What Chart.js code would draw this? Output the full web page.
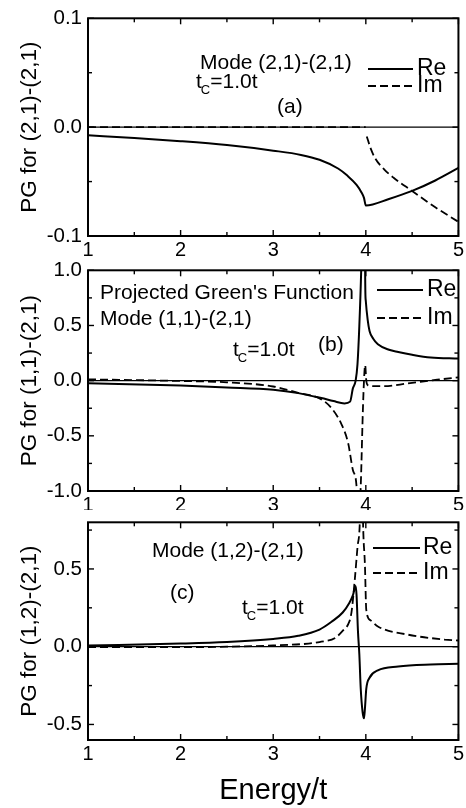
<!DOCTYPE html>
<html>
<head>
<meta charset="UTF-8">
<title>Projected Green's Function</title>
<script src="https://cdn.jsdelivr.net/npm/chart.js"></script>
<style>
  body { margin: 0; background: #fff; }
  #wrap { position: relative; width: 466px; height: 808px; overflow: hidden; }
  canvas { position: absolute; left: 0; }
</style>
</head>
<body>
<div id="wrap">
  <canvas id="chartA" width="466" height="258" style="top:0px"></canvas>
  <canvas id="chartB" width="466" height="258" style="top:252px"></canvas>
  <canvas id="chartC" width="466" height="304" style="top:504px"></canvas>
</div>

<script>
// shared x axis
const energyTicks = [1, 2, 3, 4, 5];

// panel (a): Mode (2,1)-(2,1)
const yTicksA = [-0.1, 0, 0.1];
const energyReA = [1, 1.5, 2, 2.5, 3, 3.3, 3.5, 3.7, 3.8, 3.9, 3.95, 3.98, 4.0, 4.25, 4.5, 4.75, 5];
const reA = [-0.0075, -0.0100, -0.0129, -0.0165, -0.0216, -0.0255, -0.0300, -0.0380, -0.0445, -0.0530, -0.0595, -0.0650, -0.0720, -0.0660, -0.0586, -0.0490, -0.0375];
const energyImA = [1, 2, 3, 3.999, 4.0, 4.01, 4.05, 4.1, 4.2, 4.3, 4.5, 4.75, 5];
const imA = [0, 0, 0, 0, null, -0.0085, -0.019, -0.0285, -0.039, -0.0465, -0.0586, -0.0736, -0.087];

// panel (b): Mode (1,1)-(2,1)
const yTicksB = [-1, -0.5, 0, 0.5, 1];
const energyReB = [1, 2, 2.5, 3, 3.27, 3.52, 3.65, 3.77, 3.83, 3.86, 3.89, 3.91, 3.93, 3.95, 3.965, 3.985, 3.995, 4.0, 4.02, 4.04, 4.08, 4.13, 4.25, 4.35, 4.5, 4.7, 5];
const reB = [-0.024, -0.045, -0.062, -0.083, -0.113, -0.158, -0.185, -0.206, -0.19, -0.07, 0.0, 0.15, 0.5, 1.0, 1.6, 1.6, 0.8, 0.72, 0.55, 0.45, 0.38, 0.33, 0.28, 0.26, 0.235, 0.21, 0.2];
const energyImB = [1, 2, 2.5, 3, 3.27, 3.52, 3.63, 3.74, 3.81, 3.86, 3.9, 3.92, 3.945, 3.97, 3.985, 3.993, 4.005, 4.02, 4.1, 4.2, 4.45, 4.77, 5];
const imB = [0.012, -0.003, -0.015, -0.053, -0.11, -0.17, -0.25, -0.40, -0.57, -0.81, -0.96, -1.4, -0.96, -0.22, 0.08, 0.14, 0.0, -0.04, -0.05, -0.05, -0.025, 0.008, 0.03];

// panel (c): Mode (1,2)-(2,1)
const yTicksC = [-0.5, 0, 0.5];
const energyReC = [1, 2, 2.5, 3, 3.27, 3.5, 3.63, 3.75, 3.82, 3.86, 3.89, 3.9, 3.915, 3.93, 3.945, 3.965, 3.98, 3.99, 4.005, 4.04, 4.13, 4.35, 4.7, 5];
const reC = [0.008, 0.02, 0.03, 0.05, 0.07, 0.11, 0.16, 0.22, 0.28, 0.33, 0.39, 0.33, 0.1, -0.05, -0.27, -0.42, -0.46, -0.40, -0.27, -0.2, -0.152, -0.127, -0.114, -0.11];
const energyImC = [1, 2, 2.5, 3, 3.38, 3.5, 3.67, 3.77, 3.81, 3.845, 3.88, 3.91, 3.935, 3.95, 3.96, 3.97, 3.99, 4.005, 4.05, 4.13, 4.45, 4.85, 5];
const imC = [-0.003, -0.003, 0.0, 0.008, 0.02, 0.03, 0.057, 0.115, 0.145, 0.22, 0.426, 0.64, 0.8, 1.2, 1.2, 0.8, 0.53, 0.236, 0.17, 0.13, 0.078, 0.046, 0.04];

const FONT = '"Liberation Sans", Arial, sans-serif';
Chart.defaults.font.family = FONT;
Chart.defaults.color = '#000';

function toPoints(xs, ys) {
  return xs.map((x, i) => ({ x, y: ys[i] }));
}

// box, inward ticks, zero line, labels and legend
const framePlugin = {
  id: 'frame',
  afterDraw(chart, args, o) {
    const { ctx, chartArea: a, scales: { x, y } } = chart;
    const line = (x1, y1, x2, y2) => { ctx.beginPath(); ctx.moveTo(x1, y1); ctx.lineTo(x2, y2); ctx.stroke(); };
    ctx.save();
    ctx.strokeStyle = '#000';
    ctx.fillStyle = '#000';

    ctx.lineWidth = 1.3;
    const y0 = y.getPixelForValue(0);
    line(a.left, y0, a.right, y0);

    ctx.lineWidth = 1.4;
    for (let v = x.min; v <= x.max + 1e-9; v += 0.5) {
      const px = x.getPixelForValue(v);
      const len = Math.abs(v - Math.round(v)) < 1e-9 ? 6 : 4;
      line(px, a.bottom, px, a.bottom - len);
      line(px, a.top, px, a.top + len);
    }
    const start = Math.ceil(y.min / o.minor - 1e-9) * o.minor;
    for (let v = start; v <= y.max + 1e-9; v += o.minor) {
      const py = y.getPixelForValue(v);
      const r = v / o.major;
      const len = Math.abs(r - Math.round(r)) < 1e-6 ? 6 : 4;
      line(a.left, py, a.left + len, py);
      line(a.right, py, a.right - len, py);
    }

    ctx.lineWidth = 2;
    ctx.strokeRect(a.left, a.top, a.right - a.left, a.bottom - a.top);

    const off = o.top;
    ctx.font = '21px ' + FONT;
    ctx.textBaseline = 'middle';
    ctx.textAlign = 'left';
    o.texts.forEach(t => ctx.fillText(t[0], t[1], t[2] - off));

    // t_C = 1.0t
    const [tx, ty] = o.tc;
    ctx.fillText('t', tx, ty - off);
    const tw = ctx.measureText('t').width;
    ctx.font = '13px ' + FONT;
    ctx.fillText('C', tx + tw - 1, ty - off + 8);
    const cw = ctx.measureText('C').width;
    ctx.font = '21px ' + FONT;
    ctx.fillText('=1.0t', tx + tw + cw - 1, ty - off);

    // legend
    const lg = o.legend;
    ctx.lineWidth = 2;
    line(lg.x1, lg.yRe - off, lg.x2, lg.yRe - off);
    ctx.lineWidth = 1.8;
    ctx.setLineDash([8, 4]);
    line(lg.x1, lg.yIm - off, lg.x2, lg.yIm - off);
    ctx.setLineDash([]);
    ctx.font = '23px ' + FONT;
    ctx.fillText('Re', lg.tx, lg.yRe - off);
    ctx.fillText('Im', lg.tx, lg.yIm - off);
    ctx.restore();
  }
};

function makeChart(id, p) {
  return new Chart(document.getElementById(id), {
    type: 'line',
    data: {
      datasets: [
        {
          label: 'Re', data: toPoints(p.eRe, p.re),
          borderColor: '#000', borderWidth: 2, pointRadius: 0,
          cubicInterpolationMode: 'monotone', clip: 0
        },
        {
          label: 'Im', data: toPoints(p.eIm, p.im),
          borderColor: '#000', borderWidth: 1.8, borderDash: [8, 4], pointRadius: 0,
          cubicInterpolationMode: 'monotone', clip: 0
        }
      ]
    },
    options: {
      responsive: false,
      animation: false,
      events: [],
      layout: { padding: { top: p.padTop, right: 5, left: 0, bottom: 0 } },
      plugins: {
        legend: { display: false },
        tooltip: { enabled: false },
        frame: p.frame
      },
      scales: {
        x: {
          type: 'linear', min: 1, max: 5,
          grid: { display: false, drawTicks: false }, border: { display: false },
          afterBuildTicks: s => { s.ticks = energyTicks.map(v => ({ value: v })); },
          afterFit: s => { s.height = p.xHeight; },
          ticks: { padding: 2, maxRotation: 0, autoSkip: false, font: { size: 20 } },
          title: p.xTitle
            ? { display: true, text: p.xTitle, font: { size: 29 }, padding: { top: 0, bottom: 0 } }
            : { display: false }
        },
        y: {
          type: 'linear', min: p.yMin, max: p.yMax,
          grid: { display: false, drawTicks: false }, border: { display: false },
          afterBuildTicks: s => { s.ticks = p.yTicks.map(v => ({ value: v })); },
          afterFit: s => { s.width = 88; },
          ticks: { padding: 6, font: { size: 20.5 }, callback: v => v.toFixed(1) },
          title: { display: true, text: p.yTitle, font: { size: 22.5 }, padding: { top: 16, bottom: 0 } }
        }
      }
    },
    plugins: [framePlugin]
  });
}

makeChart('chartA', {
  eRe: energyReA, re: reA, eIm: energyImA, im: imA,
  yMin: -0.1, yMax: 0.1, yTicks: yTicksA,
  yTitle: 'PG for (2,1)-(2,1)', padTop: 14, xHeight: 22,
  frame: {
    top: 0, minor: 0.05, major: 0.1,
    texts: [['Mode (2,1)-(2,1)', 200, 63], ['(a)', 277, 107]],
    tc: [196, 82],
    legend: { x1: 368, x2: 413, tx: 417, yRe: 69, yIm: 86 }
  }
});

makeChart('chartB', {
  eRe: energyReB, re: reB, eIm: energyImB, im: imB,
  yMin: -1, yMax: 1, yTicks: yTicksB,
  yTitle: 'PG for (1,1)-(2,1)', padTop: 15, xHeight: 19,
  frame: {
    top: 252, minor: 0.25, major: 0.5,
    texts: [["Projected Green's Function", 100, 293], ['Mode (1,1)-(2,1)', 100, 319], ['(b)', 318, 345]],
    tc: [233, 350],
    legend: { x1: 377, x2: 423, tx: 427, yRe: 290, yIm: 318 }
  }
});

makeChart('chartC', {
  eRe: energyReC, re: reC, eIm: energyImC, im: imC,
  yMin: -0.6, yMax: 0.8, yTicks: yTicksC,
  yTitle: 'PG for (1,2)-(2,1)', padTop: 12, xHeight: 68, xTitle: 'Energy/t',
  frame: {
    top: 504, minor: 0.25, major: 0.5,
    texts: [['Mode (1,2)-(2,1)', 152, 551], ['(c)', 170, 593]],
    tc: [242, 608],
    legend: { x1: 373, x2: 420, tx: 423, yRe: 548, yIm: 573 }
  }
});
</script>
</body>
</html>
